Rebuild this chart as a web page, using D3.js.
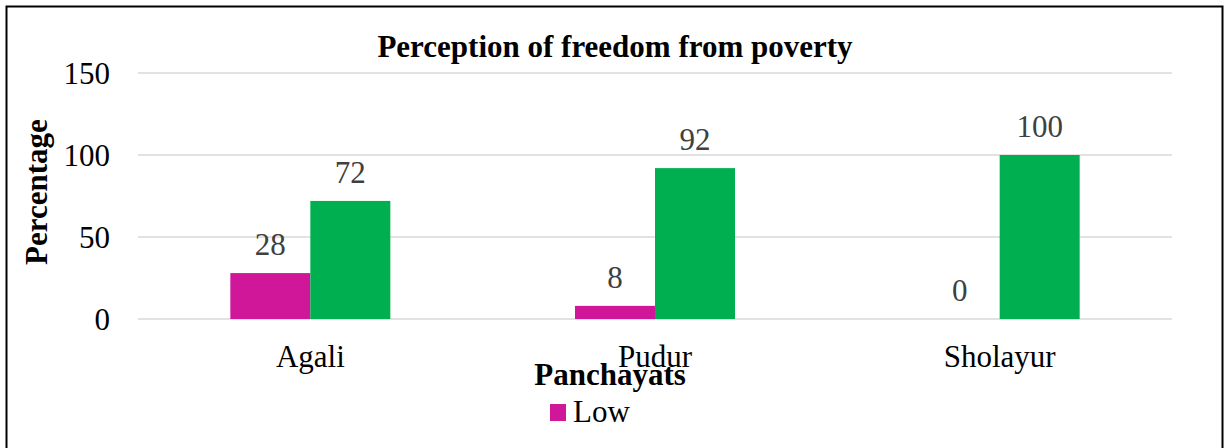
<!DOCTYPE html>
<html><head><meta charset="utf-8">
<script src="https://cdn.jsdelivr.net/npm/d3@7"></script>
<style>body{margin:0;background:#fff}svg{display:block}text{font-family:"Liberation Serif","Times New Roman",serif}</style>
</head><body>
<script>
const categories = ["Agali", "Pudur", "Sholayur"];
const seriesNames = ["Low", "High"];
const lowValues = [28, 8, 0];
const highValues = [72, 92, 100];
const yTicks = [0, 50, 100, 150];
const colors = ["#d0179a", "#00b050"];

const W = 1230, H = 448;
const FF = '"Liberation Serif","Times New Roman",serif';
const svg = d3.select("body").append("svg").attr("width", W).attr("height", H);
svg.append("rect").attr("x", 6.5).attr("y", 6.5).attr("width", 1216).attr("height", 450)
  .attr("fill", "#fff").attr("stroke", "#000").attr("stroke-width", 2);

const m = {left: 138, right: 1172, top: 73, bottom: 319};
const x = d3.scaleBand().domain(categories).range([m.left, m.right]).paddingInner(0).paddingOuter(0);
const y = d3.scaleLinear().domain([0, 150]).range([m.bottom, m.top]);
const bw = 80;
const xs = d3.scaleBand().domain(seriesNames).range([-bw, bw]);

// gridlines
svg.append("g").selectAll("line").data(yTicks).join("line")
  .attr("x1", m.left).attr("x2", m.right)
  .attr("y1", d => y(d)).attr("y2", d => y(d))
  .attr("stroke", "#d9d9d9").attr("stroke-width", 1.5);

// y axis labels
const yAxis = d3.axisLeft(y).tickValues(yTicks).tickSize(0).tickPadding(0);
const ya = svg.append("g").attr("transform", `translate(110,0)`).call(yAxis);
ya.attr("font-family", FF);
ya.select(".domain").remove();
ya.selectAll("text").attr("font-size", 31).attr("fill", "#000").attr("dy", "0.35em");

// x axis labels
const xAxis = d3.axisBottom(x).tickSize(0).tickPadding(0);
const xa = svg.append("g").attr("transform", `translate(0,345)`).call(xAxis);
xa.attr("font-family", FF);
xa.select(".domain").remove();
xa.selectAll("text").attr("font-size", 31).attr("fill", "#000").attr("dy", "0.71em");

const data = [];
categories.forEach((c, i) => {
  data.push({cat: c, s: "Low", v: lowValues[i]});
  data.push({cat: c, s: "High", v: highValues[i]});
});
const cc = d3.scaleOrdinal().domain(seriesNames).range(colors);

svg.append("g").selectAll("rect").data(data).join("rect")
  .attr("x", d => x(d.cat) + x.bandwidth() / 2 + xs(d.s))
  .attr("width", xs.bandwidth())
  .attr("y", d => y(d.v))
  .attr("height", d => y(0) - y(d.v))
  .attr("fill", d => cc(d.s));

svg.append("g").selectAll("text").data(data).join("text")
  .attr("x", d => x(d.cat) + x.bandwidth() / 2 + xs(d.s) + xs.bandwidth() / 2)
  .attr("y", d => y(d.v) - 18)
  .attr("text-anchor", "middle").attr("font-size", 31).attr("fill", "#404040")
  .text(d => d.v);

svg.append("text").attr("x", 615).attr("y", 57).attr("text-anchor", "middle")
  .attr("font-size", 31).attr("font-weight", "bold").text("Perception of freedom from poverty");

svg.append("text").attr("transform", "translate(47,192) rotate(-90)").attr("text-anchor", "middle")
  .attr("font-size", 31).attr("font-weight", "bold").text("Percentage");

svg.append("text").attr("x", 610).attr("y", 385).attr("text-anchor", "middle")
  .attr("font-size", 31).attr("font-weight", "bold").text("Panchayats");

// legend (only first entry visible)
const lg = svg.append("g");
lg.append("rect").attr("x", 550).attr("y", 404).attr("width", 16).attr("height", 17).attr("fill", colors[0]);
lg.append("text").attr("x", 573).attr("y", 422).attr("font-size", 31).attr("fill", "#000").text(seriesNames[0]);
</script>
</body></html>
